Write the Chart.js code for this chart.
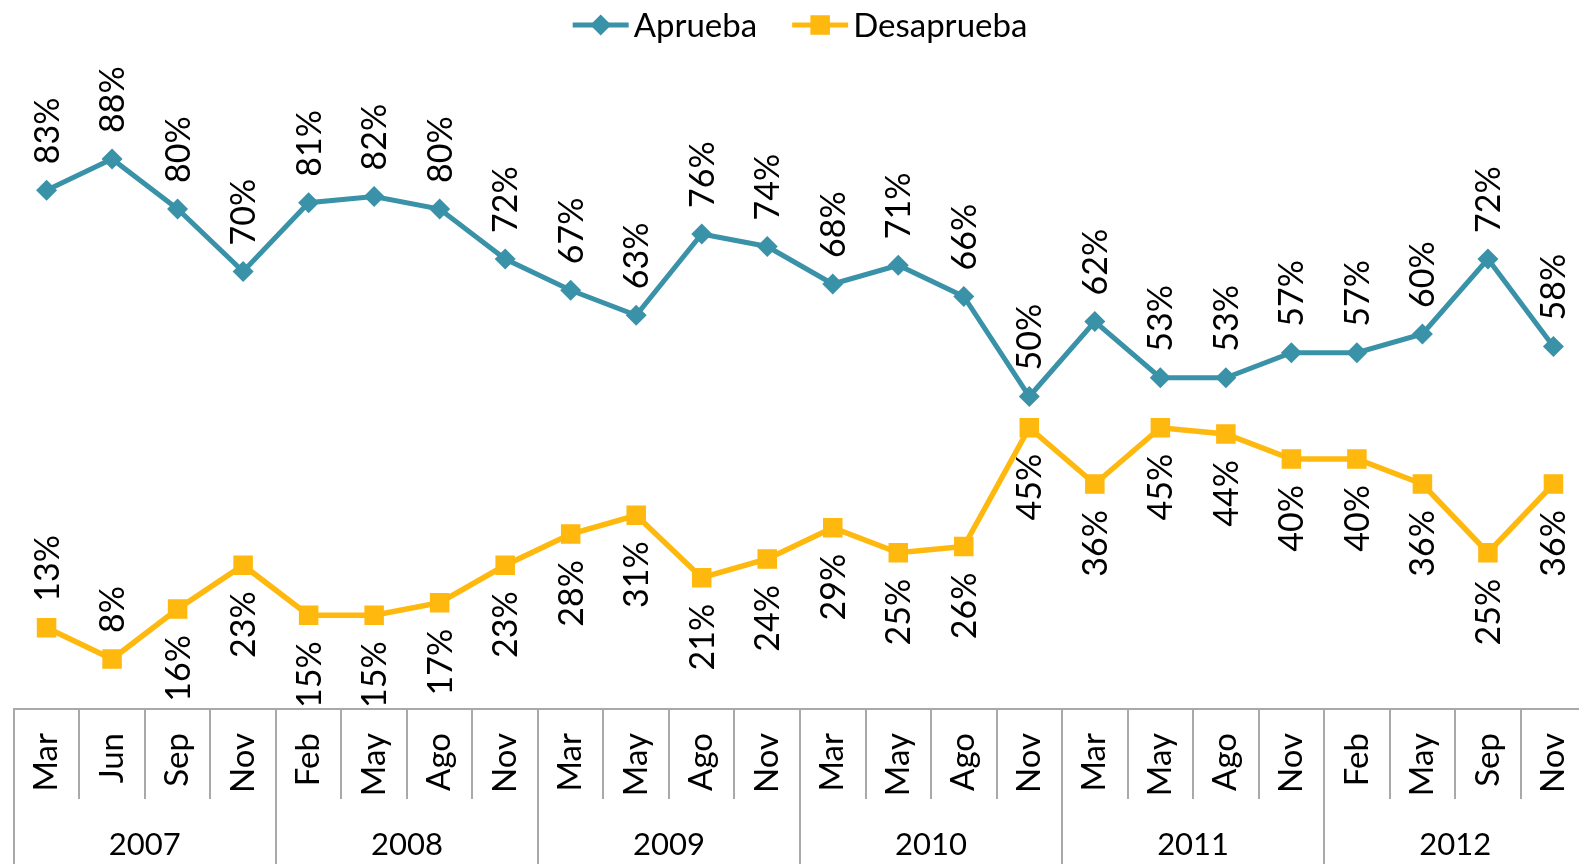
<!DOCTYPE html>
<html><head><meta charset="utf-8">
<script src="https://cdn.jsdelivr.net/npm/chart.js@4"></script>
<style>
html,body{margin:0;padding:0;background:#fff;overflow:hidden;}
#wrap{width:1579px;height:864px;overflow:hidden;position:relative;background:#fff;}
canvas{display:block;}
</style></head><body>
<div id="wrap"><canvas id="c" width="1600" height="880"></canvas></div>
<script>
const months = ['Mar','Jun','Sep','Nov','Feb','May','Ago','Nov','Mar','May','Ago','Nov','Mar','May','Ago','Nov','Mar','May','Ago','Nov','Feb','May','Sep','Nov'];
const years = ['2007','2008','2009','2010','2011','2012'];
const aprueba = [83,88,80,70,81,82,80,72,67,63,76,74,68,71,66,50,62,53,53,57,57,60,72,58];
const desaprueba = [13,8,16,23,15,15,17,23,28,31,21,24,29,25,26,45,36,45,44,40,40,36,25,36];
const seriesNames = ['Aprueba','Desaprueba'];

const TEAL = '#3A92A8';
const GOLD = '#FFB80D';
const GRID = '#A9A9A9';
const FONT = 'Lato, "Open Sans", sans-serif';

const labelPlugin = {
  id: 'vlabels',
  afterDatasetsDraw(chart, args, opts) {
    const ctx = chart.ctx;
    ctx.save();
    ctx.font = opts.size + 'px ' + FONT;
    ctx.fillStyle = '#000';
    chart.data.datasets.forEach((ds, di) => {
      const meta = chart.getDatasetMeta(di);
      meta.data.forEach((pt, i) => {
        const above = di === 0 || opts.aboveSecond.includes(i);
        const txt = ds.data[i] + '%';
        ctx.save();
        ctx.translate(pt.x + opts.shift, above ? pt.y - opts.gap : pt.y + opts.gap);
        ctx.rotate(-Math.PI / 2);
        ctx.textAlign = above ? 'left' : 'right';
        ctx.textBaseline = 'alphabetic';
        ctx.fillText(txt, 0, 0);
        ctx.restore();
      });
    });
    ctx.restore();
  }
};

const legendPlugin = {
  id: 'customLegend',
  afterDraw(chart, args, opts) {
    const ctx = chart.ctx;
    ctx.save();
    ctx.font = opts.size + 'px ' + FONT;
    const items = chart.data.datasets.map(ds => ({ds, w: ctx.measureText(ds.label).width}));
    let total = 0;
    items.forEach((it, k) => { total += opts.lineLen + opts.textGap + it.w + (k ? opts.itemGap : 0); });
    let x = opts.centerX - total / 2;
    items.forEach((it) => {
      const ds = it.ds;
      ctx.strokeStyle = ds.borderColor;
      ctx.lineWidth = opts.lineWidth;
      ctx.beginPath();
      ctx.moveTo(x, opts.y);
      ctx.lineTo(x + opts.lineLen, opts.y);
      ctx.stroke();
      ctx.fillStyle = ds.borderColor;
      ctx.beginPath();
      const cx = x + opts.lineLen / 2;
      if (ds.pointStyle === 'rect') {
        const h = ds.pointRadius * Math.SQRT1_2;
        ctx.rect(cx - h, opts.y - h, 2 * h, 2 * h);
      } else {
        const r = ds.pointRadius;
        ctx.moveTo(cx - r, opts.y); ctx.lineTo(cx, opts.y - r); ctx.lineTo(cx + r, opts.y); ctx.lineTo(cx, opts.y + r); ctx.closePath();
      }
      ctx.fill();
      ctx.fillStyle = '#000';
      ctx.textAlign = 'left';
      ctx.textBaseline = 'alphabetic';
      ctx.fillText(ds.label, x + opts.lineLen + opts.textGap, opts.baseline);
      x += opts.lineLen + opts.textGap + it.w + opts.itemGap;
    });
    ctx.restore();
  }
};

new Chart(document.getElementById('c'), {
  type: 'line',
  data: {
    labels: months,
    datasets: [
      {label: seriesNames[0], data: aprueba, borderColor: TEAL, backgroundColor: TEAL, borderWidth: 5,
       pointStyle: 'rectRot', pointRadius: 10.5, pointBorderWidth: 0, pointBackgroundColor: TEAL, tension: 0},
      {label: seriesNames[1], data: desaprueba, borderColor: GOLD, backgroundColor: GOLD, borderWidth: 5.5,
       pointStyle: 'rect', pointRadius: 13.8, pointBorderWidth: 0, pointBackgroundColor: GOLD, tension: 0}
    ]
  },
  options: {
    responsive: false,
    animation: false,
    devicePixelRatio: 1,
    layout: {padding: {top: 84, left: 10.5, right: 11, bottom: 0}},
    plugins: {
      legend: {display: false},
      tooltip: {enabled: false},
      vlabels: {size: 34, gap: 26, shift: 12, aboveSecond: [0, 1]},
      customLegend: {size: 33, centerX: 800, y: 25, baseline: 37, lineLen: 56, textGap: 5, itemGap: 35, lineWidth: 5}
    },
    scales: {
      y: {display: false, min: 0, max: 100},
      x: {
        type: 'category',
        labels: months,
        offset: true,
        position: 'bottom',
        afterFit: s => { s.height = 90; },
        grid: {offset: true, drawOnChartArea: false, drawTicks: true, tickLength: 90, color: GRID, lineWidth: 2},
        border: {display: true, color: GRID, width: 2},
        ticks: {autoSkip: false, minRotation: 90, maxRotation: 90, padding: -66, color: '#000', font: {family: FONT, size: 33}}
      },
      x2: {
        type: 'category',
        labels: years,
        offset: true,
        position: 'bottom',
        afterFit: s => { s.height = 81; },
        grid: {offset: true, drawOnChartArea: false, drawTicks: true, tickLength: 81, color: GRID, lineWidth: 2},
        border: {display: false},
        ticks: {autoSkip: false, maxRotation: 0, padding: -54, color: '#000', font: {family: FONT, size: 31}}
      }
    }
  },
  plugins: [labelPlugin, legendPlugin]
});
</script>
</body></html>
